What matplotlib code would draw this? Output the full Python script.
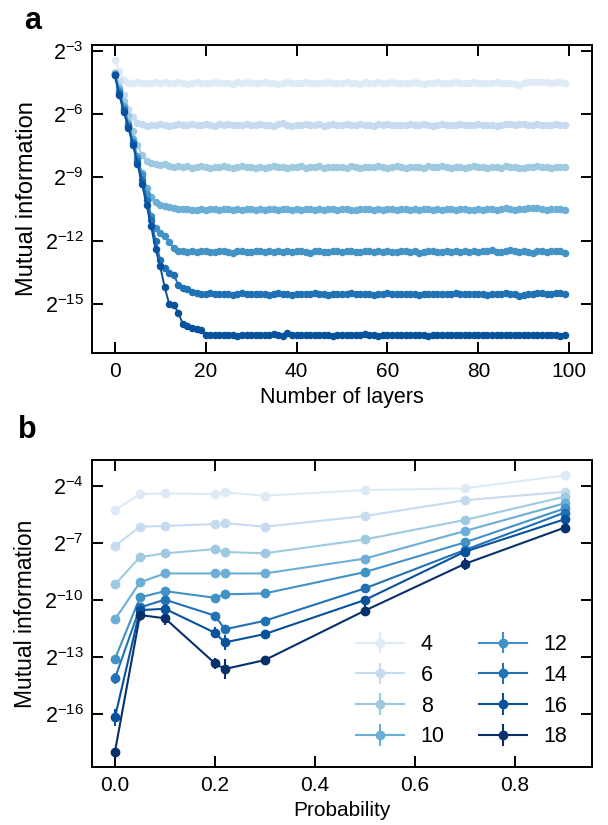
import numpy as np
import matplotlib
matplotlib.use("Agg")
import matplotlib.pyplot as plt
from matplotlib.ticker import FixedLocator, NullLocator, FixedFormatter

plt.rcParams['font.family'] = ['Liberation Sans', 'DejaVu Sans']
plt.rcParams['mathtext.fontset'] = 'custom'
plt.rcParams['mathtext.rm'] = 'Liberation Sans'
plt.rcParams['mathtext.it'] = 'Liberation Sans'
plt.rcParams['mathtext.bf'] = 'Liberation Sans:bold'

# ---------------- Data ----------------
layers = list(range(100))
sizes_a = [4, 6, 8, 10, 12, 14, 16]
# log2 of mutual information vs. number of layers
mi_a_4 = [-3.44, -3.95, -4.40, -4.52, -4.55, -4.50, -4.53, -4.51, -4.55, -4.50,
          -4.52, -4.49, -4.53, -4.55, -4.50, -4.52, -4.56, -4.51, -4.49, -4.53,
          -4.55, -4.52, -4.50, -4.54, -4.51, -4.53, -4.56, -4.50, -4.52, -4.49,
          -4.53, -4.55, -4.51, -4.50, -4.54, -4.52, -4.57, -4.51, -4.49, -4.53,
          -4.52, -4.55, -4.50, -4.53, -4.51, -4.54, -4.52, -4.49, -4.55, -4.53,
          -4.51, -4.50, -4.54, -4.52, -4.56, -4.50, -4.53, -4.51, -4.49, -4.54,
          -4.52, -4.50, -4.55, -4.53, -4.51, -4.52, -4.50, -4.54, -4.56, -4.51,
          -4.53, -4.50, -4.52, -4.55, -4.51, -4.49, -4.53, -4.52, -4.55, -4.50,
          -4.52, -4.54, -4.51, -4.53, -4.50, -4.52, -4.55, -4.53, -4.58, -4.63,
          -4.55, -4.48, -4.47, -4.49, -4.48, -4.50, -4.52, -4.49, -4.48, -4.51]
mi_a_6 = [-4.00, -4.45, -5.10, -5.75, -6.15, -6.40, -6.47, -6.55, -6.50, -6.53,
          -6.48, -6.52, -6.55, -6.50, -6.47, -6.51, -6.54, -6.49, -6.52, -6.50,
          -6.46, -6.53, -6.55, -6.49, -6.51, -6.48, -6.52, -6.54, -6.50, -6.47,
          -6.51, -6.53, -6.49, -6.52, -6.50, -6.55, -6.48, -6.42, -6.51, -6.56,
          -6.50, -6.52, -6.47, -6.53, -6.51, -6.49, -6.55, -6.50, -6.48, -6.52,
          -6.54, -6.49, -6.51, -6.53, -6.47, -6.50, -6.52, -6.55, -6.49, -6.51,
          -6.48, -6.52, -6.50, -6.54, -6.51, -6.49, -6.53, -6.50, -6.47, -6.52,
          -6.55, -6.50, -6.48, -6.52, -6.51, -6.54, -6.49, -6.50, -6.53, -6.51,
          -6.48, -6.52, -6.50, -6.53, -6.55, -6.50, -6.47, -6.49, -6.51, -6.46,
          -6.48, -6.50, -6.52, -6.49, -6.51, -6.53, -6.50, -6.48, -6.52, -6.51]
mi_a_8 = [-4.05, -4.70, -5.40, -6.10, -6.80, -7.45, -7.95, -8.20, -8.30, -8.35,
          -8.40, -8.38, -8.45, -8.50, -8.47, -8.52, -8.48, -8.53, -8.50, -8.46,
          -8.51, -8.55, -8.49, -8.52, -8.48, -8.50, -8.54, -8.51, -8.47, -8.52,
          -8.50, -8.53, -8.49, -8.55, -8.51, -8.48, -8.52, -8.50, -8.54, -8.49,
          -8.51, -8.47, -8.53, -8.50, -8.52, -8.48, -8.55, -8.51, -8.49, -8.52,
          -8.50, -8.54, -8.48, -8.51, -8.53, -8.49, -8.50, -8.52, -8.47, -8.51,
          -8.53, -8.50, -8.48, -8.52, -8.55, -8.50, -8.49, -8.51, -8.53, -8.48,
          -8.50, -8.52, -8.47, -8.51, -8.54, -8.49, -8.50, -8.53, -8.51, -8.48,
          -8.52, -8.50, -8.55, -8.49, -8.51, -8.53, -8.48, -8.50, -8.52, -8.57,
          -8.53, -8.49, -8.51, -8.46, -8.50, -8.52, -8.55, -8.49, -8.51, -8.50]
mi_a_10 = [-4.10, -4.80, -5.60, -6.40, -7.20, -8.00, -8.80, -9.50, -9.90, -10.15,
           -10.28, -10.35, -10.40, -10.45, -10.48, -10.50, -10.47, -10.52, -10.55, -10.50,
           -10.53, -10.49, -10.51, -10.54, -10.50, -10.47, -10.52, -10.50, -10.55, -10.51,
           -10.48, -10.52, -10.50, -10.53, -10.49, -10.51, -10.55, -10.50, -10.47, -10.52,
           -10.50, -10.53, -10.51, -10.48, -10.52, -10.50, -10.54, -10.49, -10.51, -10.53,
           -10.50, -10.47, -10.52, -10.55, -10.50, -10.51, -10.48, -10.53, -10.50, -10.52,
           -10.49, -10.51, -10.54, -10.50, -10.47, -10.52, -10.50, -10.53, -10.51, -10.48,
           -10.52, -10.50, -10.55, -10.51, -10.49, -10.53, -10.50, -10.48, -10.52, -10.54,
           -10.50, -10.53, -10.49, -10.51, -10.55, -10.50, -10.44, -10.47, -10.52, -10.50,
           -10.49, -10.46, -10.43, -10.45, -10.48, -10.52, -10.50, -10.47, -10.49, -10.53]
mi_a_12 = [-4.10, -4.90, -5.70, -6.50, -7.30, -8.10, -8.90, -9.80, -10.80, -11.40,
           -11.65, -11.75, -12.05, -12.35, -12.48, -12.50, -12.53, -12.49, -12.52, -12.50,
           -12.47, -12.51, -12.53, -12.50, -12.48, -12.52, -12.55, -12.50, -12.49, -12.51,
           -12.53, -12.50, -12.47, -12.52, -12.50, -12.54, -12.49, -12.51, -12.50, -12.53,
           -12.48, -12.50, -12.52, -12.55, -12.50, -12.49, -12.51, -12.53, -12.50, -12.48,
           -12.52, -12.50, -12.47, -12.53, -12.51, -12.49, -12.50, -12.54, -12.50, -12.52,
           -12.49, -12.51, -12.53, -12.50, -12.48, -12.52, -12.50, -12.55, -12.51, -12.49,
           -12.50, -12.53, -12.51, -12.48, -12.52, -12.50, -12.54, -12.49, -12.51, -12.50,
           -12.52, -12.50, -12.47, -12.45, -12.51, -12.53, -12.49, -12.44, -12.50, -12.52,
           -12.48, -12.51, -12.55, -12.50, -12.47, -12.52, -12.50, -12.46, -12.49, -12.56]
mi_a_14 = [-4.15, -5.00, -5.80, -6.55, -7.35, -8.20, -9.10, -10.05, -11.00, -12.00,
           -12.90, -13.30, -13.50, -13.60, -14.10, -14.25, -14.30, -14.40, -14.47, -14.50,
           -14.52, -14.48, -14.50, -14.53, -14.49, -14.51, -14.55, -14.50, -14.47, -14.52,
           -14.50, -14.53, -14.49, -14.51, -14.55, -14.50, -14.48, -14.52, -14.50, -14.54,
           -14.49, -14.51, -14.50, -14.53, -14.48, -14.52, -14.50, -14.55, -14.51, -14.49,
           -14.50, -14.52, -14.47, -14.53, -14.50, -14.51, -14.49, -14.54, -14.50, -14.52,
           -14.48, -14.51, -14.53, -14.50, -14.49, -14.52, -14.50, -14.54, -14.51, -14.50,
           -14.53, -14.49, -14.51, -14.50, -14.52, -14.48, -14.50, -14.53, -14.51, -14.49,
           -14.50, -14.52, -14.54, -14.49, -14.51, -14.50, -14.47, -14.52, -14.53, -14.62,
           -14.58, -14.52, -14.49, -14.46, -14.48, -14.51, -14.50, -14.47, -14.45, -14.49]
mi_a_16 = [-4.15, -5.10, -5.90, -6.65, -7.45, -8.35, -9.30, -10.30, -11.30, -12.40,
           -13.20, -14.20, -15.00, -15.05, -15.40, -15.95, -16.05, -16.10, -16.15, -16.20,
           -16.45, -16.43, -16.46, -16.44, -16.47, -16.43, -16.45, -16.48, -16.44, -16.46,
           -16.43, -16.45, -16.47, -16.44, -16.46, -16.42, -16.45, -16.48, -16.38, -16.44,
           -16.46, -16.43, -16.45, -16.47, -16.44, -16.46, -16.43, -16.45, -16.48, -16.44,
           -16.46, -16.43, -16.45, -16.47, -16.44, -16.42, -16.46, -16.45, -16.48, -16.43,
           -16.44, -16.46, -16.43, -16.45, -16.47, -16.44, -16.46, -16.43, -16.45, -16.48,
           -16.44, -16.46, -16.43, -16.45, -16.47, -16.44, -16.46, -16.43, -16.45, -16.47,
           -16.44, -16.46, -16.43, -16.45, -16.47, -16.44, -16.46, -16.43, -16.45, -16.47,
           -16.44, -16.46, -16.43, -16.45, -16.47, -16.44, -16.46, -16.43, -16.52, -16.46]
series_a = [mi_a_4, mi_a_6, mi_a_8, mi_a_10, mi_a_12, mi_a_14, mi_a_16]

prob = [0.0, 0.05, 0.1, 0.2, 0.22, 0.3, 0.5, 0.7, 0.9]
sizes_b = [4, 6, 8, 10, 12, 14, 16, 18]
# log2 of mutual information vs. probability
mi_b_4 = [-5.26, -4.42, -4.39, -4.42, -4.33, -4.51, -4.21, -4.12, -3.44]
mi_b_6 = [-7.16, -6.14, -6.10, -6.00, -5.95, -6.14, -5.58, -4.75, -4.30]
mi_b_8 = [-9.18, -7.74, -7.54, -7.32, -7.47, -7.54, -6.81, -5.79, -4.56]
mi_b_10 = [-11.02, -9.07, -8.60, -8.60, -8.60, -8.60, -7.82, -6.37, -4.91]
mi_b_12 = [-13.10, -9.86, -9.53, -9.88, -9.70, -9.65, -8.53, -6.97, -5.18]
mi_b_14 = [-14.12, -10.39, -9.98, -10.82, -11.54, -11.09, -9.39, -7.37, -5.40]
mi_b_16 = [-16.17, -10.53, -10.46, -11.72, -12.23, -11.79, -10.00, -7.46, -5.75]
mi_b_18 = [-17.98, -10.79, -10.96, -13.33, -13.63, -13.16, -10.56, -8.10, -6.19]
series_b = [mi_b_4, mi_b_6, mi_b_8, mi_b_10, mi_b_12, mi_b_14, mi_b_16, mi_b_18]
# error bar half-lengths (log2 units)
err_b_4 = [0.05, 0.03, 0.03, 0.03, 0.03, 0.03, 0.03, 0.03, 0.03]
err_b_6 = [0.06, 0.03, 0.03, 0.03, 0.03, 0.03, 0.03, 0.03, 0.03]
err_b_8 = [0.08, 0.05, 0.04, 0.05, 0.04, 0.04, 0.04, 0.03, 0.03]
err_b_10 = [0.12, 0.06, 0.05, 0.05, 0.05, 0.05, 0.04, 0.04, 0.03]
err_b_12 = [0.15, 0.10, 0.08, 0.10, 0.10, 0.08, 0.06, 0.05, 0.04]
err_b_14 = [0.30, 0.15, 0.12, 0.15, 0.18, 0.12, 0.08, 0.10, 0.05]
err_b_16 = [0.45, 0.15, 0.15, 0.30, 0.40, 0.15, 0.12, 0.12, 0.06]
err_b_18 = [0.15, 0.30, 0.35, 0.30, 0.55, 0.22, 0.30, 0.30, 0.08]
errs_b = [err_b_4, err_b_6, err_b_8, err_b_10, err_b_12, err_b_14, err_b_16, err_b_18]

colors = ['#deebf7', '#c6dbef', '#9ecae1', '#6baed6', '#4292c6', '#2171b5', '#08519c', '#08306b']

# ---------------- Figure ----------------
fig = plt.figure(figsize=(6.08, 8.25), dpi=100)
ax1 = fig.add_axes([0.1513, 0.5725, 0.8224, 0.373])
ax2 = fig.add_axes([0.1513, 0.0707, 0.8224, 0.3717])

def style(ax):
    for s in ax.spines.values():
        s.set_linewidth(1.4)
    ax.tick_params(which='major', direction='in', length=8, width=1.4,
                   top=True, right=True, labelsize=15, pad=7)
    ax.tick_params(axis='y', labelsize=15.5, pad=6)
    ax.yaxis.set_minor_locator(NullLocator())

for n, vals, c in zip(sizes_a, series_a, colors):
    ax1.plot(layers, np.power(2.0, vals), '-o', color=c, lw=1.4, ms=4.4,
             label=str(n))
ax1.set_yscale('log', base=2)
ax1.set_xlim(-5, 105)
ax1.set_ylim(2.0 ** -17.29, 2.0 ** -2.73)
yt_a = [-15, -12, -9, -6, -3]
ax1.yaxis.set_major_locator(FixedLocator([2.0 ** e for e in yt_a]))
ax1.yaxis.set_major_formatter(FixedFormatter([r'$2^{%d}$' % e for e in yt_a]))
ax1.set_xticks([0, 20, 40, 60, 80, 100])
ax1.set_xlabel('Number of layers', fontsize=15.5, labelpad=4)
ax1.set_ylabel('Mutual information', fontsize=17, labelpad=5)
style(ax1)

for n, vals, er, c in zip(sizes_b, series_b, errs_b, colors):
    v = np.array(vals)
    e = np.array(er)
    y = np.power(2.0, v)
    lo = y - np.power(2.0, v - e)
    hi = np.power(2.0, v + e) - y
    ax2.errorbar(prob, y, yerr=[lo, hi], fmt='-o', color=c, lw=1.5,
                 elinewidth=1.5, ms=6, capsize=0, label=str(n))
ax2.set_yscale('log', base=2)
ax2.set_xlim(-0.046, 0.955)
ax2.set_ylim(2.0 ** -18.77, 2.0 ** -2.63)
yt_b = [-16, -13, -10, -7, -4]
ax2.yaxis.set_major_locator(FixedLocator([2.0 ** e for e in yt_b]))
ax2.yaxis.set_major_formatter(FixedFormatter([r'$2^{%d}$' % e for e in yt_b]))
ax2.set_xticks([0.0, 0.2, 0.4, 0.6, 0.8])
ax2.set_xticklabels(['0.0', '0.2', '0.4', '0.6', '0.8'])
ax2.set_xlabel('Probability', fontsize=15, labelpad=4)
ax2.set_ylabel('Mutual information', fontsize=16.5, labelpad=5)
style(ax2)
ax2.legend(ncol=2, frameon=False, fontsize=15.5, loc='lower right',
           bbox_to_anchor=(0.99, 0.0), handlelength=2.2, columnspacing=1.6,
           labelspacing=0.45)

fig.text(0.04, 0.993, 'a', fontsize=22, fontweight='heavy', va='top', ha='left')
fig.text(0.03, 0.497, 'b', fontsize=22, fontweight='heavy', va='top', ha='left')

fig.savefig('out.png', dpi=100)
